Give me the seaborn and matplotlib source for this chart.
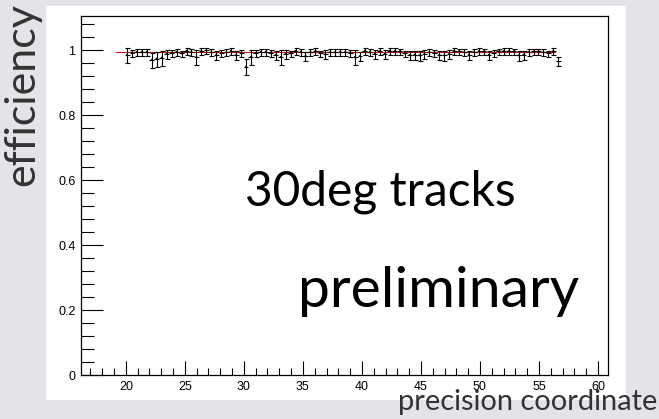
import numpy as np
import pandas as pd
import matplotlib
matplotlib.use("Agg")
import matplotlib.pyplot as plt
from matplotlib.patches import Rectangle
import seaborn as sns

# bin centres (precision coordinate) and measured efficiency
coord = [20.10, 20.52, 20.94, 21.36, 21.78, 22.20, 22.62, 23.04, 23.46, 23.88,
         24.30, 24.72, 25.14, 25.56, 25.98, 26.40, 26.82, 27.24, 27.66, 28.08,
         28.50, 28.92, 29.34, 29.76, 30.18, 30.60, 31.02, 31.44, 31.86, 32.28,
         32.70, 33.12, 33.54, 33.96, 34.38, 34.80, 35.22, 35.64, 36.06, 36.48,
         36.90, 37.32, 37.74, 38.16, 38.58, 39.00, 39.42, 39.84, 40.26, 40.68,
         41.10, 41.52, 41.94, 42.36, 42.78, 43.20, 43.62, 44.04, 44.46, 44.88,
         45.30, 45.72, 46.14, 46.56, 46.98, 47.40, 47.82, 48.24, 48.66, 49.08,
         49.50, 49.92, 50.34, 50.76, 51.18, 51.60, 52.02, 52.44, 52.86, 53.28,
         53.70, 54.12, 54.54, 54.96, 55.38, 55.80, 56.22, 56.64]
eff = [0.985, 0.992, 0.995, 0.995, 0.995, 0.970, 0.974, 0.977, 0.988, 0.992,
       0.995, 0.990, 0.998, 0.995, 0.979, 0.998, 0.999, 0.994, 0.985, 0.992,
       0.994, 0.998, 0.985, 0.992, 0.949, 0.979, 0.992, 0.995, 0.995, 0.992,
       0.985, 0.979, 0.988, 0.990, 0.998, 0.995, 0.982, 0.995, 0.998, 0.990,
       0.988, 0.994, 0.994, 0.995, 0.994, 0.992, 0.979, 0.982, 0.998, 0.995,
       0.988, 0.997, 0.988, 0.998, 0.997, 0.996, 0.990, 0.985, 0.986, 0.984,
       0.988, 0.994, 0.992, 0.986, 0.984, 0.988, 0.998, 0.996, 0.994, 0.986,
       0.994, 0.997, 0.996, 0.986, 0.992, 0.996, 0.997, 0.997, 0.996, 0.984,
       0.986, 0.994, 0.996, 0.996, 0.994, 0.990, 0.998, 0.965]
err_hi = [.020, .008, .008, .008, .008, .020, .020, .020, .012, .008,
          .008, .008, .008, .008, .020, .008, .008, .008, .012, .008,
          .008, .008, .012, .008, .025, .020, .008, .008, .008, .008,
          .012, .020, .012, .008, .008, .008, .012, .008, .008, .008,
          .012, .008, .008, .008, .008, .008, .020, .012, .008, .008,
          .012, .008, .012, .008, .008, .008, .008, .012, .012, .012,
          .012, .008, .008, .012, .012, .012, .008, .008, .008, .012,
          .008, .008, .008, .012, .008, .008, .008, .008, .008, .012,
          .012, .008, .008, .008, .008, .008, .008, .015]
err_lo = [.026, .012, .012, .012, .012, .025, .025, .025, .016, .012,
          .012, .012, .012, .012, .025, .012, .012, .012, .016, .012,
          .012, .012, .016, .012, .025, .025, .012, .012, .012, .012,
          .016, .025, .016, .012, .012, .012, .016, .012, .012, .012,
          .016, .012, .012, .012, .012, .012, .025, .016, .012, .012,
          .016, .012, .016, .012, .012, .012, .012, .016, .016, .016,
          .016, .012, .012, .016, .016, .016, .012, .012, .012, .016,
          .012, .012, .012, .016, .012, .012, .012, .012, .012, .016,
          .016, .012, .012, .012, .012, .012, .012, .015]
half_bin = 0.21

# constant fit
fit_x = [19.2, 56.4]
fit_y = [0.994, 0.994]

df = pd.DataFrame({"coord": coord, "eff": eff})
fit = pd.DataFrame({"coord": fit_x, "eff": fit_y})

sns.set_theme(style="ticks")
plt.rcParams["font.family"] = ["Liberation Sans", "DejaVu Sans"]

fig = plt.figure(figsize=(6.59, 4.19), dpi=100)
fig.patch.set_facecolor("#e4e4e8")
fig.patches.append(Rectangle((46 / 659, 1 - 400 / 419), 580 / 659, 394 / 419,
                             transform=fig.transFigure, facecolor="white",
                             edgecolor="none", zorder=-5))
ax = fig.add_axes([81 / 659, 44 / 419, 527 / 659, 359 / 419])
ax.set_zorder(2)
ax.set_facecolor("white")

sns.lineplot(data=fit, x="coord", y="eff", color="#cc1111", lw=0.8, ax=ax, zorder=2)
ax.errorbar(df["coord"], df["eff"], yerr=[err_lo, err_hi], fmt="none",
            ecolor="black", elinewidth=0.8, capsize=1.8, capthick=0.8, zorder=3)
ax.errorbar(df["coord"], df["eff"], xerr=half_bin, fmt="none",
            ecolor="black", elinewidth=0.8, zorder=3)
sns.scatterplot(data=df, x="coord", y="eff", color="black", s=2, ax=ax,
                edgecolor="none", zorder=4)

ax.set_xlim(16.2, 60.85)
ax.set_ylim(0, 1.105)
ax.set_xticks([20, 25, 30, 35, 40, 45, 50, 55, 60])
ax.set_xticks(np.arange(17, 61, 1), minor=True)
ax.set_yticks([0, 0.2, 0.4, 0.6, 0.8, 1])
ax.set_yticklabels(["0", "0.2", "0.4", "0.6", "0.8", "1"])
ax.set_yticks(np.arange(0.04, 1.1, 0.04), minor=True)
ax.tick_params(axis="both", which="both", direction="in", colors="black",
               labelsize=9, width=0.8)
ax.tick_params(axis="y", which="major", length=16, pad=4)
ax.tick_params(axis="y", which="minor", length=9)
ax.tick_params(axis="x", which="major", length=10, pad=4)
ax.tick_params(axis="x", which="minor", length=5)
for s in ax.spines.values():
    s.set_visible(True)
    s.set_color("black")
    s.set_linewidth(0.9)
ax.set_xlabel("")
ax.set_ylabel("")

ax.text(30.08, 0.523, "30deg tracks", fontsize=34.5, family="Lato",
        ha="left", va="baseline", color="black")
ax.text(34.58, 0.209, "preliminary", fontsize=41, family="Lato",
        ha="left", va="baseline", color="black")

fig.text(22 / 659, 1 - 95 / 419, "efficiency", rotation=90, fontsize=31,
         family="Lato", ha="center", va="center", color="#333333", zorder=5)
fig.text(398 / 659, 1 - 410 / 419, "precision coordinate", fontsize=20.9,
         family="Lato", ha="left", va="baseline", color="#333333", zorder=5)

fig.savefig("out.png", dpi=100, facecolor=fig.get_facecolor())
